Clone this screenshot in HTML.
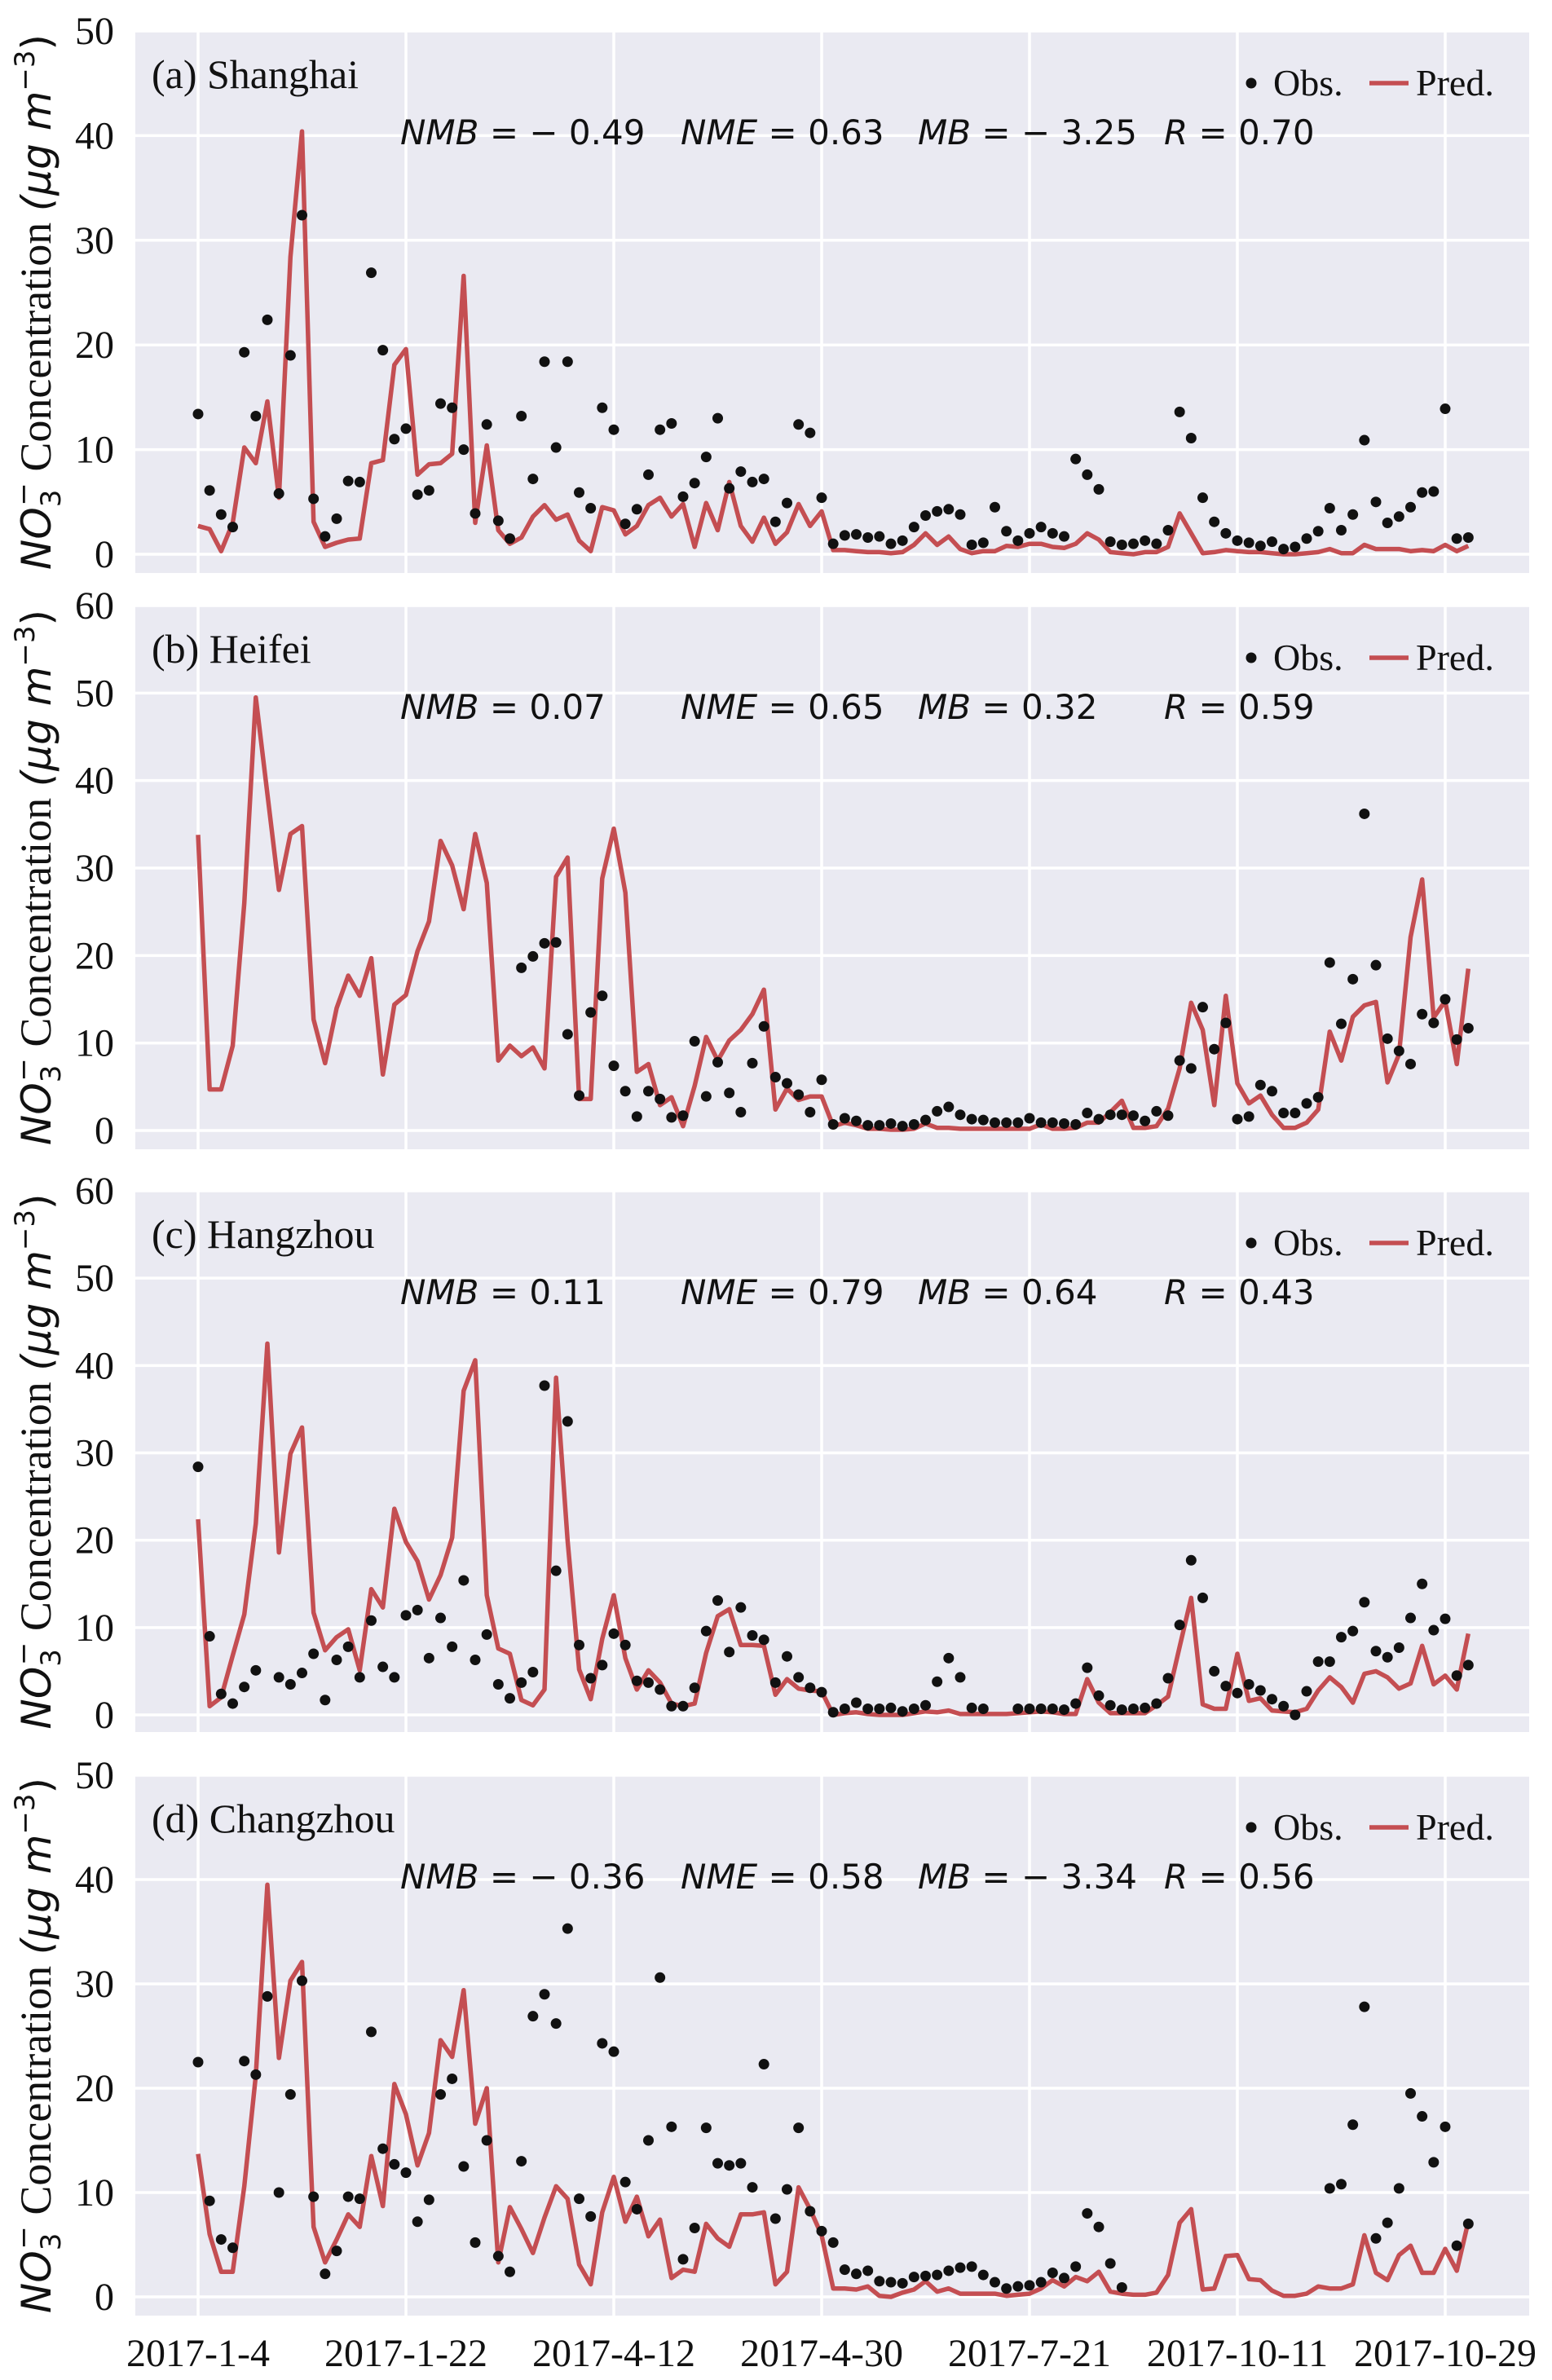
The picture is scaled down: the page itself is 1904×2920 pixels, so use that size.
<!DOCTYPE html>
<html><head><meta charset="utf-8"><style>
html,body{margin:0;padding:0;background:#fff;}
svg{display:block;}
</style></head><body>
<svg id="fig" xmlns="http://www.w3.org/2000/svg" width="1904" height="2920" viewBox="0 0 1904 2920"></svg>
<script>
const dateLabels = ["2017-1-4","2017-1-22","2017-4-12","2017-4-30","2017-7-21","2017-10-11","2017-10-29"];
const panelTitles = ["(a) Shanghai","(b) Heifei","(c) Hangzhou","(d) Changzhou"];
const yTicksA = [0,10,20,30,40,50];
const yTicksB = [0,10,20,30,40,50,60];
const yTicksC = [0,10,20,30,40,50,60];
const yTicksD = [0,10,20,30,40,50];
const statsA = ["− 0.49","0.63","− 3.25","0.70"];
const statsB = ["0.07","0.65","0.32","0.59"];
const statsC = ["0.11","0.79","0.64","0.43"];
const statsD = ["− 0.36","0.58","− 3.34","0.56"];
const N = null;
const obsA = [13.4,6.1,3.8,2.6,19.3,13.2,22.4,5.8,19.0,32.4,5.3,1.7,3.4,7.0,6.9,26.9,19.5,11.0,12.0,5.7,6.1,14.4,14.0,10.0,3.9,12.4,3.2,1.5,13.2,7.2,18.4,10.2,18.4,5.9,4.4,14.0,11.9,2.9,4.3,7.6,11.9,12.5,5.5,6.8,9.3,13.0,6.3,7.9,6.9,7.2,3.1,4.9,12.4,11.6,5.4,1.0,
1.8,1.9,1.6,1.7,1.0,1.3,2.6,3.7,4.1,4.3,3.8,0.9,1.1,4.5,2.2,1.3,2.0,2.6,2.0,1.7,9.1,7.6,6.2,1.2,0.9,1.0,1.3,1.0,2.3,13.6,11.1,5.4,3.1,2.0,1.3,1.1,0.8,1.2,0.5,0.7,1.5,2.2,4.4,2.3,3.8,10.9,5.0,3.0,3.6,4.5,5.9,6.0,13.9,1.5,1.6];
const predA = [2.7,2.4,0.3,3.0,10.2,8.7,14.6,5.4,28.4,40.4,3.1,0.7,1.1,1.4,1.5,8.7,9.0,18.1,19.6,7.6,8.6,8.7,9.6,26.6,3.0,10.4,2.3,1.0,1.6,3.6,4.7,3.3,3.8,1.3,0.3,4.5,4.2,1.9,2.7,4.7,5.4,3.6,4.8,0.7,4.9,2.3,6.9,2.7,1.2,3.5,1.0,2.1,4.8,2.7,4.1,0.4,
0.4,0.3,0.2,0.2,0.1,0.2,0.9,2.0,0.9,1.7,0.5,0.1,0.3,0.3,0.8,0.7,1.0,1.0,0.7,0.6,1.0,2.0,1.4,0.2,0.1,0.0,0.2,0.2,0.7,3.9,2.0,0.1,0.2,0.4,0.3,0.2,0.2,0.1,0.0,0.0,0.1,0.2,0.5,0.1,0.1,0.9,0.5,0.5,0.5,0.3,0.4,0.3,0.9,0.3,0.8];
const obsB = [N,N,N,N,N,N,N,N,N,N,N,N,N,N,N,N,N,N,N,N,N,N,N,N,N,N,N,N,
18.6,19.9,21.4,21.5,11.0,4.0,13.5,15.4,7.4,4.5,1.6,4.5,3.6,1.5,1.7,10.2,3.9,7.8,4.3,2.1,7.7,11.9,6.1,5.4,4.1,2.1,5.8,0.7,
1.4,1.1,0.6,0.6,0.8,0.5,0.7,1.2,2.2,2.7,1.8,1.3,1.2,0.9,0.9,0.9,1.4,0.9,0.9,0.8,0.7,2.0,1.3,1.8,1.8,1.7,1.1,2.2,1.7,8.0,7.1,14.1,9.3,12.3,1.3,1.6,5.2,4.5,2.0,2.0,3.1,3.8,19.2,12.2,17.3,36.2,18.9,10.5,9.1,7.6,13.3,12.3,15.0,10.4,11.7];
const predB = [33.8,4.7,4.7,9.7,26.0,49.5,38.5,27.5,33.9,34.8,12.7,7.7,14.0,17.7,15.4,19.7,6.4,14.4,15.5,20.5,23.9,33.1,30.3,25.3,33.9,28.3,8.0,9.7,8.5,9.5,7.1,29.0,31.2,3.6,3.6,28.8,34.5,27.2,6.7,7.6,2.9,3.8,0.5,5.1,10.7,8.0,10.3,11.5,13.3,16.1,2.4,4.8,3.5,3.9,3.9,0.5,
0.9,0.6,0.2,0.2,0.1,0.1,0.2,0.8,0.3,0.3,0.2,0.2,0.2,0.2,0.2,0.2,0.2,0.7,0.2,0.2,0.3,0.9,0.9,2.1,3.4,0.3,0.3,0.5,2.5,7.1,14.6,11.5,2.9,15.4,5.4,3.1,4.0,1.8,0.3,0.3,0.9,2.4,11.3,8.0,13.0,14.3,14.7,5.5,8.7,22.1,28.7,12.9,14.8,7.6,18.5];
const obsC = [28.4,9.0,2.4,1.3,3.2,5.1,N,4.3,3.5,4.8,7.0,1.7,6.3,7.8,4.3,10.8,5.5,4.3,11.4,12.0,6.5,11.1,7.8,15.4,6.3,9.2,3.5,1.9,3.7,4.9,37.7,16.5,33.6,8.0,4.2,5.7,9.3,8.0,3.9,3.7,2.9,1.0,1.0,3.1,9.6,13.1,7.2,12.3,9.1,8.6,3.7,6.7,4.3,3.1,2.6,0.3,
0.7,1.4,0.7,0.7,0.8,0.4,0.7,1.1,3.8,6.5,4.3,0.8,0.7,N,N,0.7,0.7,0.7,0.7,0.6,1.3,5.4,2.2,1.1,0.6,0.7,0.8,1.3,4.2,10.3,17.7,13.4,5.0,3.3,2.5,3.5,2.8,1.8,1.0,0.0,2.7,6.1,6.1,8.9,9.6,12.9,7.3,6.6,7.7,11.1,15.0,9.7,11.0,4.5,5.7];
const predC = [22.4,1.0,2.0,6.8,11.5,21.9,42.5,18.6,29.9,32.9,11.7,7.4,8.9,9.8,5.1,14.4,12.3,23.6,19.8,17.6,13.2,16.0,20.3,37.1,40.6,13.7,7.6,7.0,1.7,1.1,2.9,38.6,20.0,5.2,1.8,8.7,13.7,6.5,2.9,5.1,3.7,1.3,1.0,1.3,7.1,11.3,12.1,8.0,8.0,7.9,2.3,4.1,3.0,2.8,2.7,0.0,
0.2,0.3,0.1,0.0,0.0,0.0,0.2,0.4,0.3,0.5,0.1,0.1,0.1,0.1,0.1,0.2,0.3,0.4,0.3,0.1,0.1,4.1,1.4,0.2,0.2,0.2,0.2,1.1,2.1,7.8,13.4,1.2,0.7,0.7,7.0,1.6,1.9,0.5,0.4,0.3,0.7,2.8,4.3,3.2,1.4,4.7,5.0,4.3,3.0,3.6,7.9,3.5,4.5,2.9,9.3];
const obsD = [22.5,9.2,5.5,4.7,22.6,21.3,28.8,10.0,19.4,30.3,9.6,2.2,4.4,9.6,9.4,25.4,14.2,12.7,11.9,7.2,9.3,19.4,20.9,12.5,5.2,15.0,3.9,2.4,13.0,26.9,29.0,26.2,35.3,9.4,7.7,24.3,23.5,11.0,8.4,15.0,30.6,16.3,3.6,6.6,16.2,12.8,12.6,12.8,10.5,22.3,7.5,10.3,16.2,8.2,6.3,5.2,
2.6,2.2,2.5,1.5,1.4,1.3,1.9,2.0,2.1,2.5,2.8,2.9,2.1,1.4,0.8,1.0,1.1,1.4,2.3,1.8,2.9,8.0,6.7,3.2,0.9,
N,N,N,N,N,N,N,N,N,N,N,N,N,N,N,N,N,
10.4,10.8,16.5,27.8,5.6,7.1,10.4,19.5,17.3,12.9,16.3,4.9,7.0];
const predD = [13.7,6.0,2.4,2.4,10.6,21.2,39.5,22.9,30.3,32.1,6.7,3.3,5.5,7.9,6.7,13.5,8.7,20.4,17.5,12.6,15.7,24.6,23.0,29.4,16.6,20.0,3.3,8.6,6.5,4.2,7.6,10.6,9.4,3.1,1.2,8.1,11.5,7.2,9.6,5.8,7.4,1.8,2.6,2.4,7.0,5.6,4.8,7.9,7.9,8.1,1.2,2.4,10.5,8.4,5.9,0.8,
0.8,0.7,1.0,0.1,0.0,0.4,0.7,1.5,0.5,0.8,0.3,0.3,0.3,0.3,0.1,0.2,0.3,0.8,1.6,1.0,1.9,1.5,2.4,0.5,0.3,0.2,0.2,0.4,2.1,7.1,8.4,0.7,0.8,3.9,4.0,1.7,1.6,0.6,0.1,0.1,0.3,1.0,0.8,0.8,1.2,5.9,2.3,1.6,4.0,4.9,2.3,2.3,4.6,2.5,7.2];

const NS = "http://www.w3.org/2000/svg";
const svg = document.getElementById("fig");
function mk(tag, attrs, parent){
  const e = document.createElementNS(NS, tag);
  for (const k in attrs) e.setAttribute(k, attrs[k]);
  (parent||svg).appendChild(e);
  return e;
}
const X0 = 166, X1 = 1876;
const tickStep = 18;
function xScale(i){ return 243 + i*(255/18); }

const panels = [
  {key:"a", top:38, bottom:703, ymin:-1.79, ymax:50, ticks:yTicksA, obs:obsA, pred:predA, stats:statsA, title:panelTitles[0]},
  {key:"b", top:743, bottom:1410, ymin:-2.14, ymax:60, ticks:yTicksB, obs:obsB, pred:predB, stats:statsB, title:panelTitles[1]},
  {key:"c", top:1461, bottom:2125, ymin:-1.96, ymax:60, ticks:yTicksC, obs:obsC, pred:predC, stats:statsC, title:panelTitles[2]},
  {key:"d", top:2178, bottom:2841, ymin:-1.8, ymax:50, ticks:yTicksD, obs:obsD, pred:predD, stats:statsD, title:panelTitles[3]}
];
const statNames = ["NMB","NME","MB","R"];
const statX = [491, 835, 1126, 1428];

panels.forEach(function(p, pi){
  const yScale = v => p.bottom - (v - p.ymin)/(p.ymax - p.ymin)*(p.bottom - p.top);
  const g = mk("g", {});
  
  
  const bg = mk("rect", {x:X0, y:p.top, width:X1-X0, height:p.bottom-p.top, fill:"#eaeaf2"}, g);
  
  
  p.ticks.forEach(function(t){
    const y = yScale(t);
    const gl = mk("line", {x1:X0, x2:X1, y1:y, y2:y, stroke:"#fff", "stroke-width":3.5}, g);
    
    
    const tl = mk("text", {x:140, y:y+16, "text-anchor":"end", "font-family":"Liberation Serif, serif", "font-size":48, fill:"#111"}, g);
    tl.textContent = t;
    
    
  });
  dateLabels.forEach(function(lbl, k){
    const x = xScale(k*tickStep);
    const vl = mk("line", {x1:x, x2:x, y1:p.top, y2:p.bottom, stroke:"#fff", "stroke-width":3.5}, g);
    
    
  });
  let d = "";
  p.pred.forEach(function(v, i){ if (v === null) return; d += (d ? "L" : "M") + xScale(i).toFixed(1) + " " + yScale(v).toFixed(1); });
  const line = mk("path", {d:d, fill:"none", stroke:"#c44e52", "stroke-width":5.5, "stroke-linejoin":"round"}, g);
  
  
  p.obs.forEach(function(v, i){
    if (v === null) return;
    const c = mk("circle", {cx:xScale(i), cy:yScale(v), r:6.5, fill:"#111"}, g);
    
    
  });
  const tt = mk("text", {x:186, y:p.top+70, "font-family":"Liberation Serif, serif", "font-size":50, fill:"#111"}, g);
  tt.textContent = p.title;
  
  
  p.stats.forEach(function(s, k){
    const st = mk("text", {x:statX[k], y:p.top+139, "font-family":"DejaVu Sans, sans-serif", "font-size":42, fill:"#111"}, g);
    const it = mk("tspan", {"font-style":"italic"}, st);
    it.textContent = statNames[k];
    const rest = mk("tspan", {}, st);
    rest.textContent = " = " + s;
    
    
  });
  const lg = mk("g", {}, g);
  
  
  const ld = mk("circle", {cx:1535, cy:p.top+64, r:6.5, fill:"#111"}, lg);
  
  
  const lt1 = mk("text", {x:1562, y:p.top+79, "font-family":"Liberation Serif, serif", "font-size":46, fill:"#111"}, lg);
  lt1.textContent = "Obs.";
  
  
  const ll = mk("line", {x1:1680, x2:1728, y1:p.top+64, y2:p.top+64, stroke:"#c44e52", "stroke-width":5.5}, lg);
  
  
  const lt2 = mk("text", {x:1737, y:p.top+79, "font-family":"Liberation Serif, serif", "font-size":46, fill:"#111"}, lg);
  lt2.textContent = "Pred.";
  
  
  const cy = (p.top + p.bottom)/2;
  const yt = mk("text", {transform:"translate(62," + cy + ") rotate(-90)", "text-anchor":"middle", "font-family":"Liberation Serif, serif", "font-size":54, fill:"#111"}, g);
  
  
  const t1 = mk("tspan", {"font-family":"DejaVu Sans, sans-serif", "font-style":"italic", "font-size":50}, yt); t1.textContent = "NO";
  const t2 = mk("tspan", {"font-family":"DejaVu Sans, sans-serif", "font-size":34, dy:12}, yt); t2.textContent = "3";
  const t3 = mk("tspan", {"font-family":"DejaVu Sans, sans-serif", "font-size":34, dx:-20, dy:-34}, yt); t3.textContent = "−";
  const t4 = mk("tspan", {dy:22}, yt); t4.textContent = " Concentration ";
  const t5 = mk("tspan", {"font-family":"DejaVu Sans, sans-serif", "font-style":"italic", "font-size":50}, yt); t5.textContent = "(μg m";
  const t6 = mk("tspan", {"font-family":"DejaVu Sans, sans-serif", "font-size":34, dy:-20}, yt); t6.textContent = "−3";
  const t7 = mk("tspan", {"font-family":"DejaVu Sans, sans-serif", "font-size":50, dy:20}, yt); t7.textContent = ")";
});

dateLabels.forEach(function(lbl, k){
  const t = mk("text", {x:xScale(k*tickStep), y:2903, "text-anchor":"middle", "font-family":"Liberation Serif, serif", "font-size":48, fill:"#111"});
  t.textContent = lbl;
  
  
});
</script>
</body></html>
